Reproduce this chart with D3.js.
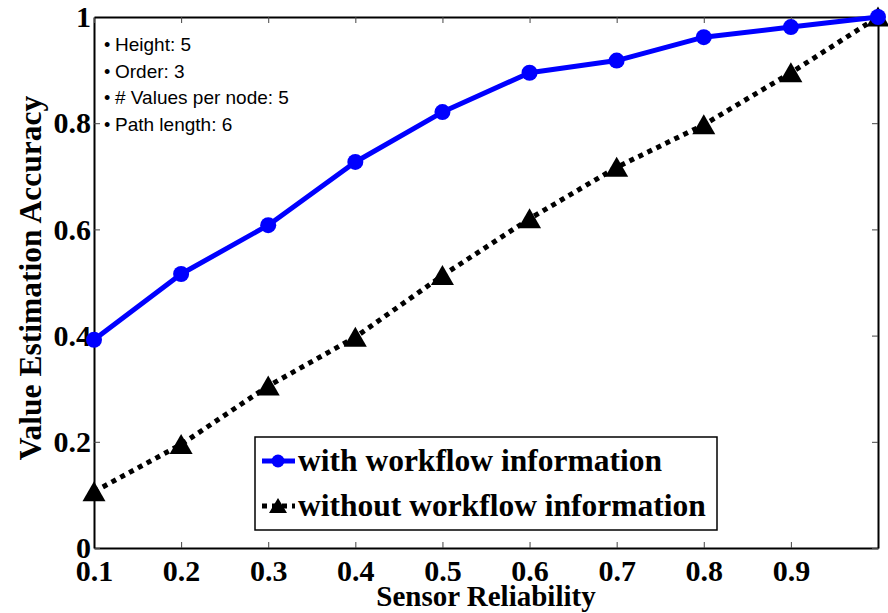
<!DOCTYPE html>
<html>
<head>
<meta charset="utf-8">
<script src="https://cdn.jsdelivr.net/npm/d3@7"></script>
<style>
  body { margin: 0; background: white; }
  svg { display: block; }
</style>
</head>
<body>
<div class="chartDiv"></div>
<script>

// ---------------- data ----------------
let reliability = [0.1, 0.2, 0.3, 0.4, 0.5, 0.6, 0.7, 0.8, 0.9, 1.0];
let withWorkflow = [0.392, 0.516, 0.608, 0.727, 0.821, 0.895, 0.918, 0.962, 0.981, 1.0];
let withoutWorkflow = [0.106, 0.195, 0.305, 0.397, 0.513, 0.620, 0.717, 0.797, 0.895, 1.0];
let xTickValues = [0.1, 0.2, 0.3, 0.4, 0.5, 0.6, 0.7, 0.8, 0.9, 1.0];
let xTickLabels = ["0.1", "0.2", "0.3", "0.4", "0.5", "0.6", "0.7", "0.8", "0.9", ""];
let yTickValues = [0, 0.2, 0.4, 0.6, 0.8, 1];
let yTickLabels = ["0", "0.2", "0.4", "0.6", "0.8", "1"];
let notes = ["Height: 5", "Order: 3", "# Values per node: 5", "Path length: 6"];
let legendNames = ["with workflow information", "without workflow information"];

// ---------------- setup ----------------
let margin = {top: 17, right: 10, bottom: 65, left: 94},
    width = 888 - margin.left - margin.right,
    height = 613 - margin.top - margin.bottom;

let x = d3.scaleLinear().domain([0.1, 1.0]).range([0, width]);
let y = d3.scaleLinear().domain([0, 1]).range([height, 0]);

let svg = d3.select(".chartDiv").append("svg")
    .attr("width", 888)
    .attr("height", 613)
  .append("g")
    .attr("transform", "translate(" + margin.left + "," + margin.top + ")");

let serif = "'Liberation Serif', 'Times New Roman', serif";

// axes (ticks pointing inward, box on all four sides)
let xAxis = d3.axisBottom(x).tickValues(xTickValues)
    .tickSizeInner(-6).tickSizeOuter(0).tickPadding(12)
    .tickFormat((d, i) => xTickLabels[i]);
let yAxis = d3.axisLeft(y).tickValues(yTickValues)
    .tickSizeInner(-6).tickSizeOuter(0).tickPadding(3)
    .tickFormat((d, i) => yTickLabels[i]);
let xAxisTop = d3.axisTop(x).tickValues(xTickValues)
    .tickSizeInner(-6).tickSizeOuter(0).tickFormat("");
let yAxisRight = d3.axisRight(y).tickValues(yTickValues)
    .tickSizeInner(-6).tickSizeOuter(0).tickFormat("");

let gx = svg.append("g").attr("transform", "translate(0," + height + ")").call(xAxis);
let gy = svg.append("g").call(yAxis);
let gxt = svg.append("g").call(xAxisTop);
let gyr = svg.append("g").attr("transform", "translate(" + width + ",0)").call(yAxisRight);

[gx, gy, gxt, gyr].forEach(g => {
  g.select(".domain").attr("stroke", "#000").attr("stroke-width", 2);
  g.selectAll(".tick line").attr("stroke", "#444").attr("stroke-width", 1);
  g.selectAll(".tick text")
    .style("font-family", serif)
    .style("font-weight", "bold")
    .style("font-size", "30px")
    .attr("fill", "#000");
});

// ---------------- series ----------------
let withData = reliability.map((r, i) => ({x: r, y: withWorkflow[i]}));
let withoutData = reliability.map((r, i) => ({x: r, y: withoutWorkflow[i]}));

let line = d3.line().x(d => x(d.x)).y(d => y(d.y));
let triangle = "M0,-10.5L11.5,9.5L-11.5,9.5Z";

svg.append("path")
    .datum(withoutData)
    .attr("d", line)
    .attr("fill", "none")
    .attr("stroke", "#000")
    .attr("stroke-width", 5)
    .attr("stroke-dasharray", "5,5");

svg.selectAll(".tri")
    .data(withoutData)
  .enter().append("path")
    .attr("class", "tri")
    .attr("d", triangle)
    .attr("transform", d => "translate(" + x(d.x) + "," + y(d.y) + ")")
    .attr("fill", "#000");

svg.append("path")
    .datum(withData)
    .attr("d", line)
    .attr("fill", "none")
    .attr("stroke", "#0000ff")
    .attr("stroke-width", 5)
    .attr("stroke-linejoin", "round");

svg.selectAll(".dot")
    .data(withData)
  .enter().append("circle")
    .attr("class", "dot")
    .attr("cx", d => x(d.x))
    .attr("cy", d => y(d.y))
    .attr("r", 8)
    .attr("fill", "#0000ff");

// ---------------- notes in the corner ----------------
let noteG = svg.append("g");
notes.forEach((t, i) => {
  noteG.append("text")
      .attr("x", 10)
      .attr("y", 34 + i * 26.7)
      .style("font-family", "'Liberation Sans', Arial, sans-serif")
      .style("font-size", "18px")
      .text("\u2022");
  noteG.append("text")
      .attr("x", 21)
      .attr("y", 34 + i * 26.7)
      .style("font-family", "'Liberation Sans', Arial, sans-serif")
      .style("font-size", "19px")
      .text(t);
});

// ---------------- legend ----------------
let legend = svg.append("g").attr("transform", "translate(" + (255 - margin.left) + "," + (437 - margin.top) + ")");
legend.append("rect")
    .attr("width", 462)
    .attr("height", 93)
    .attr("fill", "white")
    .attr("stroke", "#000")
    .attr("stroke-width", 1.5);

let rowY = [24, 69];
legend.append("line")
    .attr("x1", 7).attr("x2", 40).attr("y1", rowY[0]).attr("y2", rowY[0])
    .attr("stroke", "#0000ff").attr("stroke-width", 5);
legend.append("circle")
    .attr("cx", 23).attr("cy", rowY[0]).attr("r", 6.5).attr("fill", "#0000ff");
legend.append("line")
    .attr("x1", 7).attr("x2", 40).attr("y1", rowY[1]).attr("y2", rowY[1])
    .attr("stroke", "#000").attr("stroke-width", 5).attr("stroke-dasharray", "5,5");
legend.append("path")
    .attr("d", "M0,-8L9,7L-9,7Z")
    .attr("transform", "translate(23," + rowY[1] + ")")
    .attr("fill", "#000");

legendNames.forEach((t, i) => {
  legend.append("text")
      .attr("x", 43)
      .attr("y", rowY[i] + 10)
      .style("font-family", serif)
      .style("font-weight", "bold")
      .style("font-size", "31.5px")
      .text(t);
});

// ---------------- axis titles ----------------
svg.append("text")
    .attr("x", 486 - margin.left)
    .attr("y", 606 - margin.top)
    .attr("text-anchor", "middle")
    .style("font-family", serif)
    .style("font-weight", "bold")
    .style("font-size", "29px")
    .text("Sensor Reliability");

svg.append("text")
    .attr("transform", "translate(" + (41 - margin.left) + "," + (278 - margin.top) + ") rotate(-90)")
    .attr("text-anchor", "middle")
    .style("font-family", serif)
    .style("font-weight", "bold")
    .style("font-size", "31.5px")
    .text("Value Estimation Accuracy");

</script>
</body>
</html>
